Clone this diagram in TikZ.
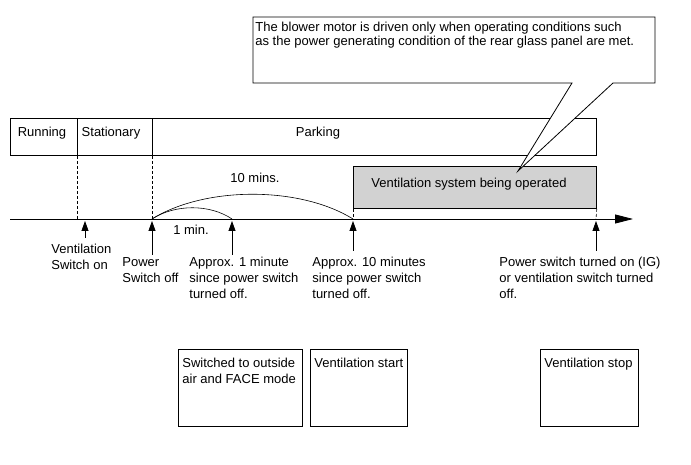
\documentclass[tikz,border=0pt]{standalone}
\usepackage{fontspec}
\setmainfont{Liberation Sans}
\usetikzlibrary{arrows.meta}
\definecolor{opgray}{RGB}{210,210,210}
\begin{document}
\begin{tikzpicture}[x=1pt,y=-1pt,
  font=\fontsize{13}{16}\selectfont,
  line width=0.8pt,
  boxline/.style={draw=black, line width=0.8pt},
  txt/.style={inner sep=0pt, align=left, anchor=north west},
  upar/.style={-{Triangle[length=10pt,width=7pt]}},
  dsh/.style={dashed, line width=0.6pt, dash pattern=on 3pt off 2pt}
]
\useasboundingbox (0,0) rectangle (691,465);

% phase bar
\node[boxline, minimum width=67pt, minimum height=37pt, anchor=north west, inner sep=0pt] (run) at (10,118) {};
\node[boxline, minimum width=75pt, minimum height=37pt, anchor=north west, inner sep=0pt] (sta) at (77,118) {};
\node[boxline, minimum width=444pt, minimum height=37pt, anchor=north west, inner sep=0pt] (par) at (152,118) {};
\node[anchor=north, inner sep=0pt] (trun) at (42,127) {Running};
\node[anchor=north, inner sep=0pt] (tsta) at (111,127) {Stationary};
\node[anchor=north, inner sep=0pt] (tpar) at (318,127) {Parking};

% operation box
\node[boxline, fill=opgray, minimum width=243pt, minimum height=42pt, anchor=north west, inner sep=0pt] (op) at (353,166) {};
\node[txt] (top) at (371,178) {Ventilation system being operated};

% axis
\coordinate (a0) at (10,219);
\coordinate (a1) at (633,219);
\draw[-{Triangle[length=18pt,width=9pt]}] (a0) -- (a1);

% event points on axis
\coordinate (p1) at (77,219);
\coordinate (p2) at (152,219);
\coordinate (p3) at (232,219);
\coordinate (p4) at (353,219);
\coordinate (p5) at (596,219);

% dashed guides
\draw[dsh] (sta.south west) -- (p1);
\draw[dsh] (par.south west) -- (p2);
\draw[dsh] (op.south west) -- (p4);
\draw[dsh] (op.south east) -- (p5);

% arcs
\draw[line width=0.6pt] (p2) .. controls (175,204) and (210,204) .. (p3);
\draw[line width=0.6pt] (p2) .. controls (205,186) and (300,186) .. (p4);
\node[inner sep=0pt] (l10) at (255,178) {10 mins.};
\node[inner sep=0pt] (l1) at (191,230) {1 min.};

% up arrows
\coordinate (u1b) at (85,238);  \coordinate (u1t) at (85,221);
\coordinate (u2b) at (152,255); \coordinate (u2t) at (152,221);
\coordinate (u3b) at (232,255); \coordinate (u3t) at (232,221);
\coordinate (u4b) at (353,251); \coordinate (u4t) at (353,221);
\coordinate (u5b) at (596,251); \coordinate (u5t) at (596,221);
\draw[upar] (u1b) -- (u1t);
\draw[upar] (u2b) -- (u2t);
\draw[upar] (u3b) -- (u3t);
\draw[upar] (u4b) -- (u4t);
\draw[upar] (u5b) -- (u5t);

% event labels
\node[txt] (e1) at (51,244) {Ventilation\\Switch on};
\node[txt] (e2) at (122,257) {Power\\Switch off};
\node[txt] (e3) at (189,257) {Approx. 1 minute\\since power switch\\turned off.};
\node[txt] (e4) at (312,257) {Approx. 10 minutes\\since power switch\\turned off.};
\node[txt] (e5) at (499,257) {Power switch turned on (IG)\\or ventilation switch turned\\off.};

% bottom boxes
\node[boxline, minimum width=124pt, minimum height=77pt, anchor=north west, inner sep=0pt] (b1) at (178,349) {};
\node[boxline, minimum width=97pt, minimum height=77pt, anchor=north west, inner sep=0pt] (b2) at (310,349) {};
\node[boxline, minimum width=98pt, minimum height=77pt, anchor=north west, inner sep=0pt] (b3) at (540,349) {};
\node[txt] (tb1) at ([shift={(4,9)}]b1.north west) {Switched to outside\\air and FACE mode};
\node[txt] (tb2) at ([shift={(4,9)}]b2.north west) {Ventilation start};
\node[txt] (tb3) at ([shift={(4,9)}]b3.north west) {Ventilation stop};

% callout
\coordinate (c1) at (253,17);
\coordinate (c2) at (655,17);
\coordinate (c3) at (655,83);
\coordinate (c4) at (613,83);
\coordinate (tip) at (518,171);
\coordinate (c5) at (572,83);
\coordinate (c6) at (253,83);
\draw[fill=white, line width=0.8pt] (c1) -- (c2) -- (c3) -- (c4) -- (tip) -- (c5) -- (c6) -- cycle;
\node[txt, font=\fontsize{13}{14}\selectfont] (ct) at (255,22) {The blower motor is driven only when operating conditions such\\as the power generating condition of the rear glass panel are met.};
\end{tikzpicture}
\end{document}
